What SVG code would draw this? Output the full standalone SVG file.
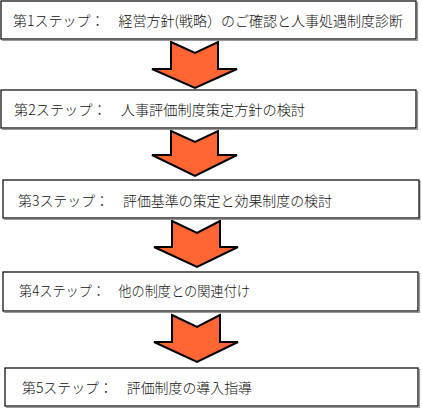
<svg xmlns="http://www.w3.org/2000/svg" width="422" height="408" viewBox="0 0 422 408">
<style>
.box{fill:#fff;stroke:#000;stroke-width:1.2}
.sh{fill:none;stroke:#999;stroke-width:1.2}
.t{font-family:"Noto Sans CJK JP","Liberation Sans",sans-serif;font-size:14px;font-weight:300;fill:#111}
.arr{fill:#FF6633;stroke:#000;stroke-width:2;stroke-linejoin:miter}
</style>
<rect width="422" height="408" fill="#fff"/>
<g id="connectors">
<polygon class="arr" points="171,42 195,53 218,42 218,69 237,69 195,88 152,69 171,69"/>
<polygon class="arr" points="171,131 195,142 218,131 218,155 237,155 195,176 152,155 171,155"/>
<polygon class="arr" points="172,221 197,233 220,221 220,247 238,247 197,267 154,247 172,247"/>
<polygon class="arr" points="172,315 197,327 220,315 220,342 238,342 197,362 154,342 172,342"/>
</g>
<g id="step1">
<path class="sh" d="M2,40.5 H417.5 V2"/>
<rect class="box" x="1" y="1" width="415" height="38"/>
<text class="t" x="13" y="26" textLength="390" lengthAdjust="spacingAndGlyphs">第1ステップ：　経営方針(戦略）のご確認と人事処遇制度診断</text>
</g>
<g id="step2">
<path class="sh" d="M2,129.5 H417.5 V91"/>
<rect class="box" x="1" y="90" width="415" height="38"/>
<text class="t" x="14" y="115" textLength="291" lengthAdjust="spacingAndGlyphs">第2ステップ：　人事評価制度策定方針の検討</text>
</g>
<g id="step3">
<path class="sh" d="M4,219.5 H420 V181"/>
<rect class="box" x="3" y="180" width="416" height="38"/>
<text class="t" x="18" y="206" textLength="314" lengthAdjust="spacingAndGlyphs">第3ステップ：　評価基準の策定と効果制度の検討</text>
</g>
<g id="step4">
<path class="sh" d="M4,312.5 H419.5 V273"/>
<rect class="box" x="3" y="272" width="415" height="39"/>
<text class="t" x="19" y="296" textLength="231" lengthAdjust="spacingAndGlyphs">第4ステップ：　他の制度との関連付け</text>
</g>
<g id="step5">
<path class="sh" d="M6,407.5 H419.5 V369"/>
<rect class="box" x="5" y="368" width="413" height="38"/>
<text class="t" x="22" y="393" textLength="230" lengthAdjust="spacingAndGlyphs">第5ステップ：　評価制度の導入指導</text>
</g>
</svg>
